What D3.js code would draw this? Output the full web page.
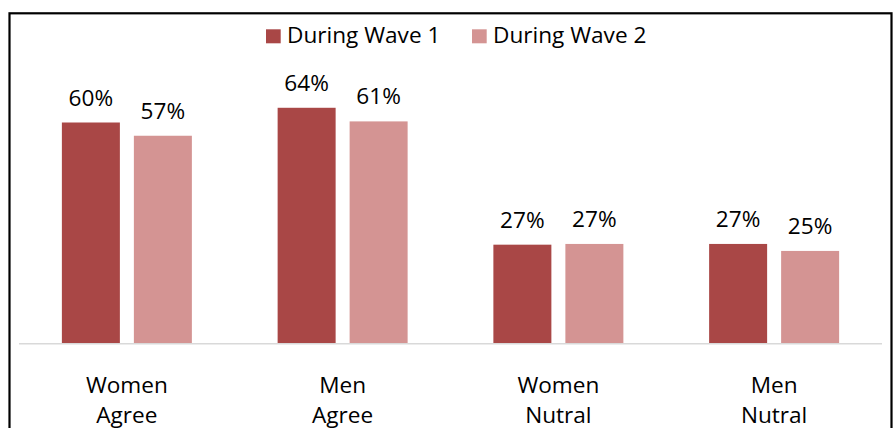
<!DOCTYPE html>
<html>
<head>
<meta charset="utf-8">
<script src="https://cdn.jsdelivr.net/npm/d3@7"></script>
<style>
  html, body { margin: 0; padding: 0; background: #fff; }
  svg { display: block; }
  text { font-family: "Open Sans", sans-serif; fill: #000; }
</style>
</head>
<body>
<svg id="chart" width="893" height="428"></svg>
<script>
const categories = [["Women", "Agree"], ["Men", "Agree"], ["Women", "Nutral"], ["Men", "Nutral"]];
const seriesNames = ["During Wave 1", "During Wave 2"];
const wave1 = [60.0, 64.0, 26.8, 27.0];
const wave2 = [56.4, 60.3, 27.0, 25.1];
const wave1Labels = ["60%", "64%", "27%", "27%"];
const wave2Labels = ["57%", "61%", "27%", "25%"];
const colors = ["#a94746", "#d49493"];

const svg = d3.select("#chart");
const FS = 22.6;

// frame
svg.append("rect")
  .attr("x", 9.5).attr("y", 13.3)
  .attr("width", 882).attr("height", 440)
  .attr("fill", "#fff").attr("stroke", "#000").attr("stroke-width", 2.2);

const plotLeft = 19, plotRight = 882, baseY = 343.3;

const x0 = d3.scaleBand().domain(d3.range(categories.length)).range([plotLeft, plotRight]).padding(0);
const groupW = 130;
const x1 = d3.scaleBand().domain([0, 1])
  .range([(x0.bandwidth() - groupW) / 2, (x0.bandwidth() + groupW) / 2])
  .paddingInner(14 / 72);
const y = d3.scaleLinear().domain([0, 70]).range([baseY, baseY - 257.6]);

const series = [wave1, wave2];
const labels = [wave1Labels, wave2Labels];

const data = [];
categories.forEach((c, i) => {
  series.forEach((s, j) => {
    data.push({ cat: i, s: j, v: s[i], label: labels[j][i] });
  });
});

const g = svg.append("g");
g.selectAll("rect.bar").data(data).enter().append("rect")
  .attr("class", "bar")
  .attr("x", d => x0(d.cat) + x1(d.s))
  .attr("y", d => y(d.v))
  .attr("width", x1.bandwidth())
  .attr("height", d => y(0) - y(d.v))
  .attr("fill", d => colors[d.s]);

g.selectAll("text.val").data(data).enter().append("text")
  .attr("class", "val")
  .attr("x", d => x0(d.cat) + x1(d.s) + x1.bandwidth() / 2)
  .attr("y", d => y(d.v) - 17)
  .attr("text-anchor", "middle")
  .attr("font-size", FS)
  .text(d => d.label);

// baseline axis
svg.append("line")
  .attr("x1", plotLeft).attr("x2", plotRight)
  .attr("y1", baseY + 0.5).attr("y2", baseY + 0.5)
  .attr("stroke", "#d9d9d9").attr("stroke-width", 1.6);

// category labels
const catG = svg.selectAll("text.cat").data(categories).enter().append("text")
  .attr("class", "cat")
  .attr("text-anchor", "middle")
  .attr("font-size", FS);
catG.each(function(c, i) {
  const t = d3.select(this);
  c.forEach((line, k) => {
    t.append("tspan")
      .attr("x", x0(i) + x0.bandwidth() / 2)
      .attr("y", 392.7 + k * 30.6)
      .text(line);
  });
});

// legend
const legendPos = [{ sx: 266, tx: 287 }, { sx: 472, tx: 493 }];
seriesNames.forEach((n, j) => {
  svg.append("rect")
    .attr("x", legendPos[j].sx).attr("y", 29.3)
    .attr("width", 14.7).attr("height", 14)
    .attr("fill", colors[j]);
  svg.append("text")
    .attr("x", legendPos[j].tx).attr("y", 43.3)
    .attr("font-size", FS)
    .text(n);
});
</script>
</body>
</html>
